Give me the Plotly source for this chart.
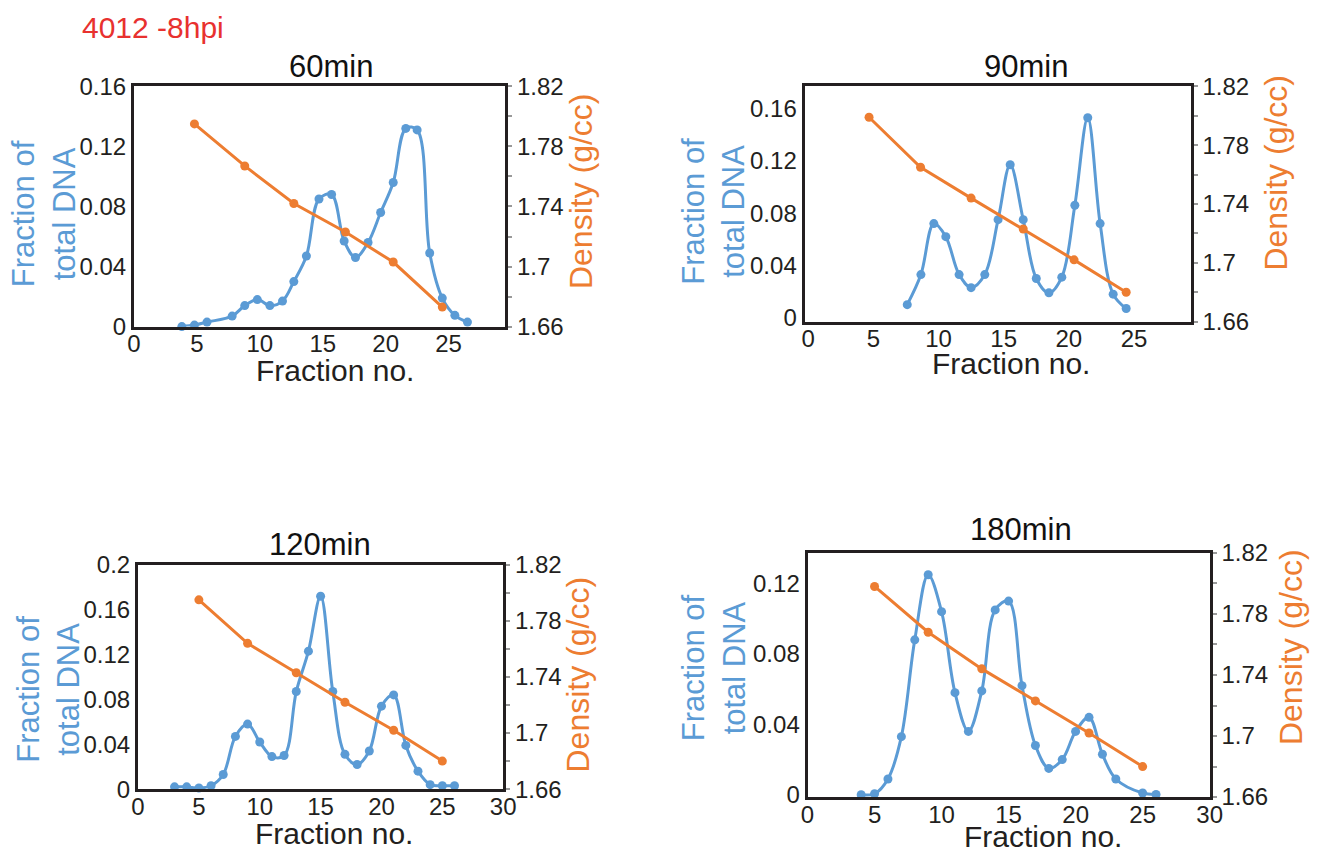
import plotly.graph_objects as go

W, H = 1319, 857
BLUE = "#5B9BD5"
ORANGE = "#ED7D31"
AXIS = "#231F20"
FONT = "Liberation Sans, Arial, sans-serif"

# ---------------- data ----------------
# 60min
f60_x = [3.8, 4.8, 5.8, 7.8, 8.8, 9.8, 10.8, 11.8, 12.7, 13.7, 14.7, 15.7, 16.7,
         17.6, 18.6, 19.6, 20.6, 21.6, 22.5, 23.5, 24.5, 25.5, 26.5]
f60_dna = [0.0, 0.001, 0.003, 0.007, 0.014, 0.018, 0.014, 0.017, 0.030, 0.047, 0.085,
           0.088, 0.057, 0.046, 0.056, 0.076, 0.096, 0.132, 0.131, 0.049, 0.019, 0.0075, 0.003]
d60_x = [4.8, 8.8, 12.7, 16.8, 20.6, 24.5]
d60_rho = [1.795, 1.767, 1.742, 1.723, 1.703, 1.673]

# 90min
f90_x = [7.6, 8.65, 9.64, 10.56, 11.58, 12.5, 13.55, 14.57, 15.5, 16.5, 17.5, 18.47,
         19.46, 20.46, 21.45, 22.4, 23.4, 24.4]
f90_dna = [0.010, 0.033, 0.072, 0.062, 0.033, 0.023, 0.033, 0.075, 0.117, 0.075, 0.030,
           0.019, 0.031, 0.086, 0.153, 0.072, 0.018, 0.007]
d90_x = [4.67, 8.62, 12.5, 16.5, 20.4, 24.4]
d90_rho = [1.799, 1.765, 1.744, 1.723, 1.702, 1.680]

# 120min
f120_x = [3, 4, 5, 6, 7, 8, 9, 10, 11, 12, 13, 14, 15, 16, 17, 18, 19, 20, 21, 22, 23, 24, 25, 26]
f120_dna = [0.002, 0.002, 0.001, 0.003, 0.013, 0.047, 0.058, 0.042, 0.029, 0.030, 0.087,
            0.123, 0.172, 0.087, 0.031, 0.022, 0.034, 0.074, 0.084, 0.039, 0.016, 0.004,
            0.003, 0.003]
d120_x = [5, 9, 13, 17, 21, 25]
d120_rho = [1.795, 1.764, 1.743, 1.722, 1.702, 1.680]

# 180min
f180_x = [4, 5, 6, 7, 8, 9, 10, 11, 12, 13, 14, 15, 16, 17, 18, 19, 20, 21, 22, 23, 25, 26]
f180_dna = [0.0, 0.0006, 0.009, 0.033, 0.088, 0.125, 0.104, 0.058, 0.036, 0.059, 0.105,
            0.110, 0.062, 0.028, 0.015, 0.020, 0.036, 0.044, 0.023, 0.009, 0.001, 0.0002]
d180_x = [5, 9, 13, 17, 21, 25]
d180_rho = [1.798, 1.768, 1.744, 1.723, 1.702, 1.680]

titles = ["60min", "90min", "120min", "180min"]
left_ticks = [[0, 0.04, 0.08, 0.12, 0.16],
              [0, 0.04, 0.08, 0.12, 0.16],
              [0, 0.04, 0.08, 0.12, 0.16, 0.2],
              [0, 0.04, 0.08, 0.12]]
left_text = [["0", "0.04", "0.08", "0.12", "0.16"],
             ["0", "0.04", "0.08", "0.12", "0.16"],
             ["0", "0.04", "0.08", "0.12", "0.16", "0.2"],
             ["0", "0.04", "0.08", "0.12"]]
right_ticks = [1.66, 1.7, 1.74, 1.78, 1.82]
right_text = ["1.66", "1.7", "1.74", "1.78", "1.82"]
right_minor = [1.68, 1.72, 1.76, 1.80]
x_ticks = [[0, 5, 10, 15, 20, 25], [0, 5, 10, 15, 20, 25],
           [0, 5, 10, 15, 20, 25, 30], [0, 5, 10, 15, 20, 25, 30]]

# ---------------- layout geometry (target pixels in the photograph) ----------------
panels = [
    dict(bx=f60_x, by=f60_dna, ox=d60_x, oy=d60_rho, box=(131, 503, 85, 326),
         xr=[0, 29.5], yr=[0, 0.16],
         title=(328, 65), xt=(332, 370), lt=(41, 213), rt=(579, 190)),
    dict(bx=f90_x, by=f90_dna, ox=d90_x, oy=d90_rho, box=(803, 1190, 85, 321),
         xr=[-0.28, 29.35], yr=[-0.003, 0.177],
         title=(1025, 65), xt=(1010, 363), lt=(712, 210), rt=(1276, 172)),
    dict(bx=f120_x, by=f120_dna, ox=d120_x, oy=d120_rho, box=(135, 501, 565, 790),
         xr=[0, 30], yr=[0, 0.2],
         title=(317, 545), xt=(331, 835), lt=(45, 690), rt=(576, 675)),
    dict(bx=f180_x, by=f180_dna, ox=d180_x, oy=d180_rho, box=(806, 1209, 553, 798),
         xr=[0, 30], yr=[-0.0013, 0.1374],
         title=(1020, 530), xt=(1042, 838), lt=(712, 668), rt=(1290, 647)),
]


# compensation for the slight rescale seen in the photographed page
def X(x):
    return (x - 3.7) / 0.987


def Y(y):
    return (y - 12.4) / 0.9716


def px(x):
    return X(x) / W


def py(y):
    return 1 - Y(y) / H


fig = go.Figure()
layout = dict(width=W, height=H, margin=dict(l=0, r=0, t=0, b=0),
              paper_bgcolor="white", plot_bgcolor="white", showlegend=False,
              font=dict(family=FONT, color="#231F20"))
annotations = []
TICKF = dict(size=24, family=FONT, color="#231F20")

for i, p in enumerate(panels):
    n = i + 1
    xa = "x" if n == 1 else f"x{n}"
    ya = "y" if n == 1 else f"y{n}"
    yr_id = f"y{n + 4}"
    x0, x1, y0, y1 = p["box"]

    fig.add_trace(go.Scatter(
        x=p["bx"], y=p["by"], xaxis=xa, yaxis=ya, mode="lines+markers",
        line=dict(color=BLUE, width=3, shape="spline", smoothing=1.0),
        marker=dict(size=9, color=BLUE), cliponaxis=False))
    fig.add_trace(go.Scatter(
        x=p["ox"], y=p["oy"], xaxis=xa, yaxis=yr_id, mode="lines+markers",
        line=dict(color=ORANGE, width=3),
        marker=dict(size=9, color=ORANGE), cliponaxis=False))

    xkey = "xaxis" if n == 1 else f"xaxis{n}"
    ykey = "yaxis" if n == 1 else f"yaxis{n}"
    layout[xkey] = dict(
        domain=[px(x0), px(x1)], anchor=ya, range=p["xr"],
        tickvals=x_ticks[i], ticks="", showline=True, mirror=True,
        linecolor=AXIS, linewidth=3, showgrid=False, zeroline=False,
        ticklabelstandoff=-6, tickfont=TICKF)
    layout[ykey] = dict(
        domain=[py(y1), py(y0)], anchor=xa, range=p["yr"],
        tickvals=left_ticks[i], ticktext=left_text[i], ticks="",
        showline=True, linecolor=AXIS, linewidth=3, showgrid=False,
        zeroline=False, tickfont=TICKF)
    layout[f"yaxis{n + 4}"] = dict(
        overlaying=ya, anchor=xa, side="right", range=[1.66, 1.82],
        tickvals=right_ticks, ticktext=right_text, ticks="outside", ticklen=4,
        tickcolor="#999", tickwidth=1.5,
        minor=dict(tickvals=right_minor, ticks="outside", ticklen=4,
                   tickcolor="#999", tickwidth=1.5),
        showline=True, linecolor=AXIS, linewidth=3, showgrid=False,
        zeroline=False, tickfont=TICKF)

    tx, ty = p["title"]
    annotations.append(dict(text=titles[i], x=px(tx), y=py(ty), xref="paper", yref="paper",
                            showarrow=False, xanchor="center", yanchor="middle",
                            font=dict(size=31, family=FONT, color="#111")))
    ax_, ay_ = p["xt"]
    annotations.append(dict(text="Fraction no.", x=px(ax_), y=py(ay_), xref="paper",
                            yref="paper", showarrow=False, xanchor="center",
                            yanchor="middle", font=dict(size=30, family=FONT, color="#231F20")))
    lx, ly = p["lt"]
    annotations.append(dict(text="Fraction of<br>total DNA", x=px(lx), y=py(ly), xref="paper",
                            yref="paper", showarrow=False, xanchor="center",
                            yanchor="middle", textangle=-90,
                            font=dict(size=31, family=FONT, color=BLUE)))
    rx, ry = p["rt"]
    annotations.append(dict(text="Density (g/cc)", x=px(rx), y=py(ry), xref="paper",
                            yref="paper", showarrow=False, xanchor="center",
                            yanchor="middle", textangle=-90,
                            font=dict(size=32, family=FONT, color=ORANGE)))

annotations.append(dict(text="4012 -8hpi", x=px(150), y=py(26), xref="paper", yref="paper",
                        showarrow=False, xanchor="center", yanchor="middle",
                        font=dict(size=30, family=FONT, color="#E8312F")))
layout["annotations"] = annotations
fig.update_layout(**layout)
fig.write_html("out.html")
